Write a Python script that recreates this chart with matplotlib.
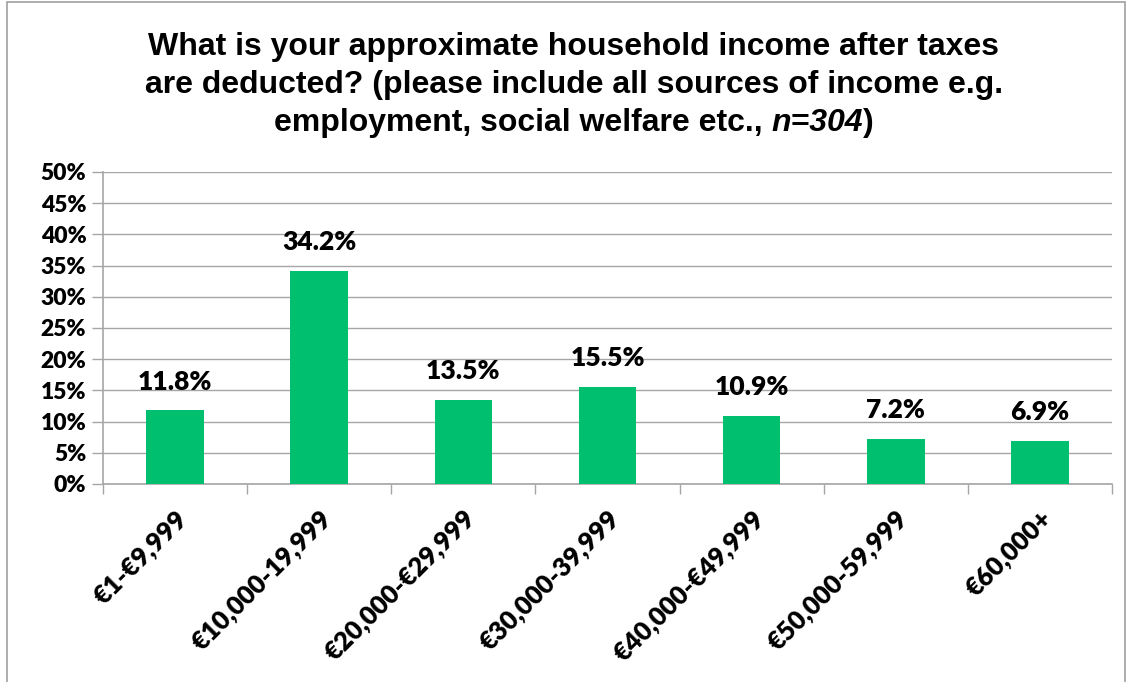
import matplotlib
matplotlib.use("Agg")
import matplotlib.pyplot as plt
from matplotlib.patches import Rectangle

categories = ["€1-€9,999", "€10,000-19,999", "€20,000-€29,999", "€30,000-39,999",
              "€40,000-€49,999", "€50,000-59,999", "€60,000+"]
values = [11.8, 34.2, 13.5, 15.5, 10.9, 7.2, 6.9]
yticks = [0, 5, 10, 15, 20, 25, 30, 35, 40, 45, 50]

label_font = "Lato"
label_weight = "heavy"
title_font = "Liberation Sans"
green = "#00BF6F"
grid_gray = "#A6A6A6"

fig = plt.figure(figsize=(11.32, 6.82), dpi=100)
fig.patches.append(Rectangle((7/1132, -0.01), 1 - 14/1132, 1 - 2/682 + 0.01,
                             transform=fig.transFigure, fill=False,
                             edgecolor="#A0A0A0", linewidth=1.2))
ax = fig.add_axes([103/1132, 1 - 484/682, (1112 - 103)/1132, (484 - 172)/682])

x = list(range(len(categories)))
ax.bar(x, values, width=0.4, color=green, zorder=3)
ax.set_xlim(-0.5, len(categories) - 0.5)
ax.set_ylim(0, 50)
ax.set_yticks(yticks)
ax.set_yticklabels([f"{t}%" for t in yticks], fontfamily=label_font,
                   fontweight=label_weight, fontsize=16.5)
ax.yaxis.grid(True, color=grid_gray, linewidth=1.0, zorder=0)
ax.set_axisbelow(True)

ax.set_xticks([i - 0.5 for i in range(len(categories) + 1)])
ax.set_xticklabels([])
ax.set_xticks(x, minor=True)
ax.set_xticklabels(categories, minor=True, rotation=45, ha="right",
                   rotation_mode="anchor", fontfamily=label_font,
                   fontweight=label_weight, fontsize=18.5)
ax.tick_params(axis="x", which="minor", length=0, pad=16)
ax.tick_params(axis="x", which="major", length=7, color=grid_gray, width=1)
ax.tick_params(axis="y", length=8, color=grid_gray, width=1, pad=4)

for s in ["top", "right"]:
    ax.spines[s].set_visible(False)
for s in ["left", "bottom"]:
    ax.spines[s].set_color(grid_gray)
    ax.spines[s].set_linewidth(1.2)

for xi, v in zip(x, values):
    ax.annotate(f"{v:.1f}%", (xi, v), xytext=(0, 15), textcoords="offset points",
                ha="center", va="baseline", fontfamily=label_font,
                fontweight=label_weight, fontsize=19)

# Title
cx = 574 / 1132
tkw = dict(fontfamily=title_font, fontweight="bold", fontsize=23, va="center")
fig.text(cx, 1 - 47/682, "What is your approximate household income after taxes", ha="center", **tkw)
fig.text(cx, 1 - 85/682, "are deducted? (please include all sources of income e.g.", ha="center", **tkw)

renderer = fig.canvas.get_renderer()
parts = [("employment, social welfare etc., ", "normal"), ("n=304", "italic"), (")", "normal")]
texts = []
widths = []
for s, st in parts:
    t = fig.text(0, 1 - 123/682, s, ha="left", fontstyle=st, **tkw)
    bb = t.get_window_extent(renderer=renderer)
    texts.append(t)
    widths.append(bb.width)
total = sum(widths)
start = cx * fig.bbox.width - total / 2
for t, w in zip(texts, widths):
    t.set_x(start / fig.bbox.width)
    start += w

fig.savefig("out.png", dpi=100)
